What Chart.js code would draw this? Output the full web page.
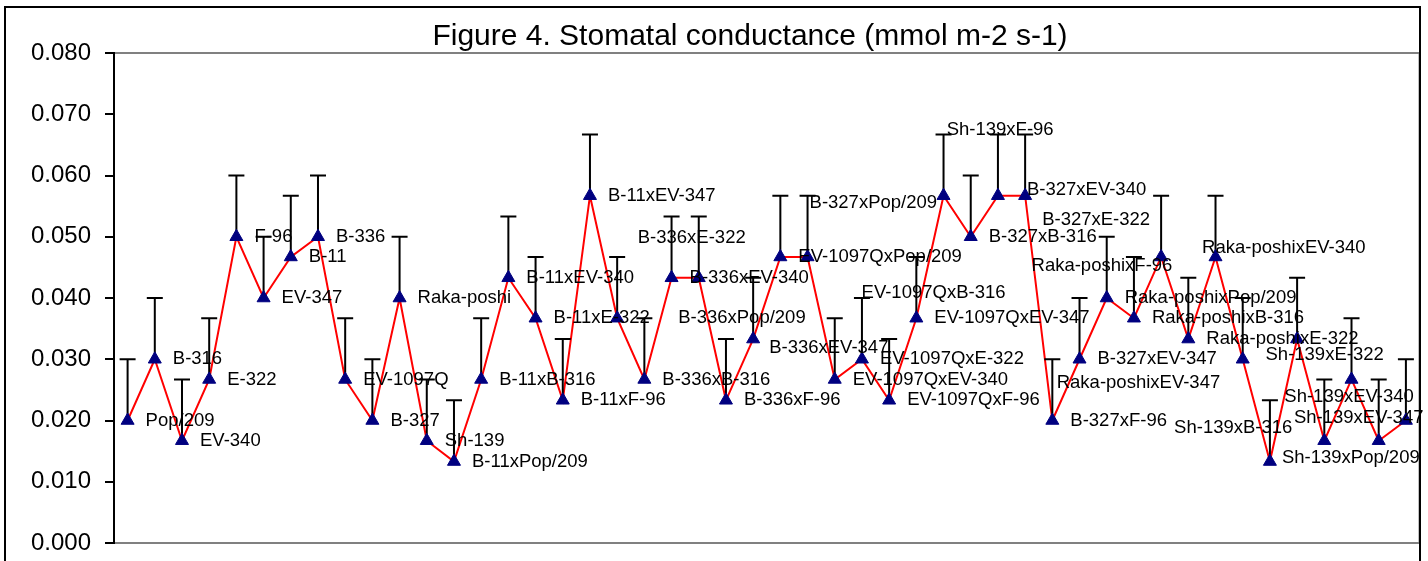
<!DOCTYPE html>
<html>
<head>
<meta charset="utf-8">
<script src="https://cdn.jsdelivr.net/npm/chart.js@4.4.1/dist/chart.umd.min.js"></script>
<style>
  html, body { margin: 0; padding: 0; background: #fff; }
  #wrap { width: 1428px; height: 561px; }
</style>
</head>
<body>
<div id="wrap"><canvas id="myChart" width="1428" height="561"></canvas></div>
<script>
const chartTitle = 'Figure 4. Stomatal conductance (mmol m-2 s-1)';

const genotypes = [
  'Pop/209', 'B-316', 'EV-340', 'E-322', 'F-96', 'EV-347',
  'B-11', 'B-336', 'EV-1097Q', 'B-327', 'Raka-poshi', 'Sh-139',
  'B-11xPop/209', 'B-11xB-316', 'B-11xEV-340', 'B-11xE-322', 'B-11xF-96', 'B-11xEV-347',
  'B-336xPop/209', 'B-336xB-316', 'B-336xEV-340', 'B-336xE-322', 'B-336xF-96', 'B-336xEV-347',
  'EV-1097QxPop/209', 'EV-1097QxB-316', 'EV-1097QxEV-340', 'EV-1097QxE-322', 'EV-1097QxF-96', 'EV-1097QxEV-347',
  'B-327xPop/209', 'B-327xB-316', 'B-327xEV-340', 'B-327xE-322', 'B-327xF-96', 'B-327xEV-347',
  'Raka-poshixPop/209', 'Raka-poshixB-316', 'Raka-poshixEV-340', 'Raka-poshixE-322', 'Raka-poshixF-96', 'Raka-poshixEV-347',
  'Sh-139xPop/209', 'Sh-139xB-316', 'Sh-139xEV-340', 'Sh-139xE-322', 'Sh-139xF-96', 'Sh-139xEV-347'
];

const conductance = [
  0.0200, 0.0300, 0.0167, 0.0267, 0.0500, 0.0400,
  0.0467, 0.0500, 0.0267, 0.0200, 0.0400, 0.0167,
  0.0133, 0.0267, 0.0433, 0.0367, 0.0233, 0.0567,
  0.0367, 0.0267, 0.0433, 0.0433, 0.0233, 0.0333,
  0.0467, 0.0467, 0.0267, 0.0300, 0.0233, 0.0367,
  0.0567, 0.0500, 0.0567, 0.0567, 0.0200, 0.0300,
  0.0400, 0.0367, 0.0467, 0.0333, 0.0467, 0.0300,
  0.0133, 0.0333, 0.0167, 0.0267, 0.0167, 0.0200
];

// upper error bar length
const errorUp = [
  0.010, 0.010, 0.010, 0.010, 0.010, 0.010,
  0.010, 0.010, 0.010, 0.010, 0.010, 0.010,
  0.010, 0.010, 0.010, 0.010, 0.010, 0.010,
  0.010, 0.010, 0.010, 0.010, 0.010, 0.010,
  0.010, 0.010, 0.010, 0.010, 0.010, 0.010,
  0.010, 0.010, 0.010, 0.010, 0.010, 0.010,
  0.010, 0.010, 0.010, 0.010, 0.010, 0.010,
  0.010, 0.010, 0.010, 0.010, 0.010, 0.010
];

const yTickLabels = ['0.000', '0.010', '0.020', '0.030', '0.040', '0.050', '0.060', '0.070', '0.080'];

// labels that were moved away from the default spot (pixel shift from the point)
const labelShift = {
  18: [61, 0], 21: [-61, -40], 23: [16, 9], 25: [54, 36],
  30: [-134, 7], 32: [29, -6], 33: [17, 24], 38: [41, -9],
  40: [-184, 9], 41: [-186, 24], 42: [12, -4], 43: [-123, 89],
  44: [-40, -44], 45: [-86, -25], 46: [-432, -311], 47: [-112, -3]
};

const FONT = "'Liberation Sans', Arial, sans-serif";

const framePlugin = {
  id: 'frame',
  beforeDraw(chart) {
    const ctx = chart.ctx;
    const a = chart.chartArea;
    ctx.save();
    ctx.fillStyle = '#fff';
    ctx.fillRect(0, 0, chart.width, chart.height);
    ctx.strokeStyle = '#808080';
    ctx.lineWidth = 2;
    ctx.strokeRect(a.left, a.top, a.right - a.left, a.bottom - a.top);
    ctx.restore();
  },
  afterDraw(chart) {
    const ctx = chart.ctx;
    ctx.save();
    ctx.strokeStyle = '#000';
    ctx.lineWidth = 2;
    ctx.strokeRect(5, 7, 1415, 620);
    // title
    ctx.fillStyle = '#000';
    ctx.font = '30px ' + FONT;
    ctx.textAlign = 'center';
    ctx.textBaseline = 'alphabetic';
    ctx.fillText(chartTitle, 750, 45);
    ctx.restore();
  }
};

const errorBarPlugin = {
  id: 'errorBars',
  afterDatasetDraw(chart, args) {
    if (args.index !== 0) return;
    const ctx = chart.ctx;
    const x = chart.scales.x;
    const y = chart.scales.y;
    ctx.save();
    ctx.strokeStyle = '#000';
    ctx.lineWidth = 2;
    for (let i = 0; i < conductance.length; i++) {
      let px = x.getPixelForValue(i);
      let y0 = y.getPixelForValue(conductance[i]);
      let y1 = y.getPixelForValue(conductance[i] + errorUp[i]);
      ctx.beginPath();
      ctx.moveTo(px, y0);
      ctx.lineTo(px, y1);
      ctx.moveTo(px - 8, y1);
      ctx.lineTo(px + 8, y1);
      ctx.stroke();
    }
    ctx.restore();
  }
};

const pointLabelPlugin = {
  id: 'pointLabels',
  afterDatasetsDraw(chart) {
    const ctx = chart.ctx;
    const x = chart.scales.x;
    const y = chart.scales.y;
    ctx.save();
    ctx.fillStyle = '#000';
    ctx.font = '18.5px ' + FONT;
    ctx.textAlign = 'left';
    ctx.textBaseline = 'middle';
    for (let i = 0; i < genotypes.length; i++) {
      let shift = labelShift[i] || [18, 0];
      let px = x.getPixelForValue(i) + shift[0];
      let py = y.getPixelForValue(conductance[i]) + shift[1];
      ctx.fillText(genotypes[i], px, py);
    }
    ctx.restore();
  }
};

const ctx = document.getElementById('myChart');
new Chart(ctx, {
  type: 'line',
  data: {
    labels: genotypes,
    datasets: [{
      data: conductance,
      borderColor: '#FF0000',
      borderWidth: 2,
      pointRadius: 0,
      tension: 0,
      order: 2
    }, {
      data: conductance,
      showLine: false,
      pointStyle: 'triangle',
      pointRadius: 7.5,
      pointBackgroundColor: '#000080',
      pointBorderColor: '#000080',
      pointBorderWidth: 1,
      order: 1
    }]
  },
  options: {
    responsive: false,
    animation: false,
    layout: { padding: { left: 0, right: 8, top: 53, bottom: 18 } },
    plugins: {
      legend: { display: false },
      tooltip: { enabled: false },
      title: { display: false }
    },
    scales: {
      x: {
        type: 'category',
        display: false,
        offset: true
      },
      y: {
        min: 0,
        max: 0.08,
        afterFit(scale) {
          scale.width = 114;
          scale.paddingTop = 0;
          scale.paddingBottom = 0;
        },
        ticks: {
          stepSize: 0.01,
          color: '#000',
          padding: 14,
          font: { family: FONT, size: 24 },
          callback: (v, i) => yTickLabels[i]
        },
        grid: {
          drawOnChartArea: false,
          drawTicks: true,
          tickLength: 9,
          color: '#000',
          lineWidth: 2
        },
        border: { display: true, color: '#000', width: 2 }
      }
    }
  },
  plugins: [framePlugin, errorBarPlugin, pointLabelPlugin]
});
</script>
</body>
</html>
